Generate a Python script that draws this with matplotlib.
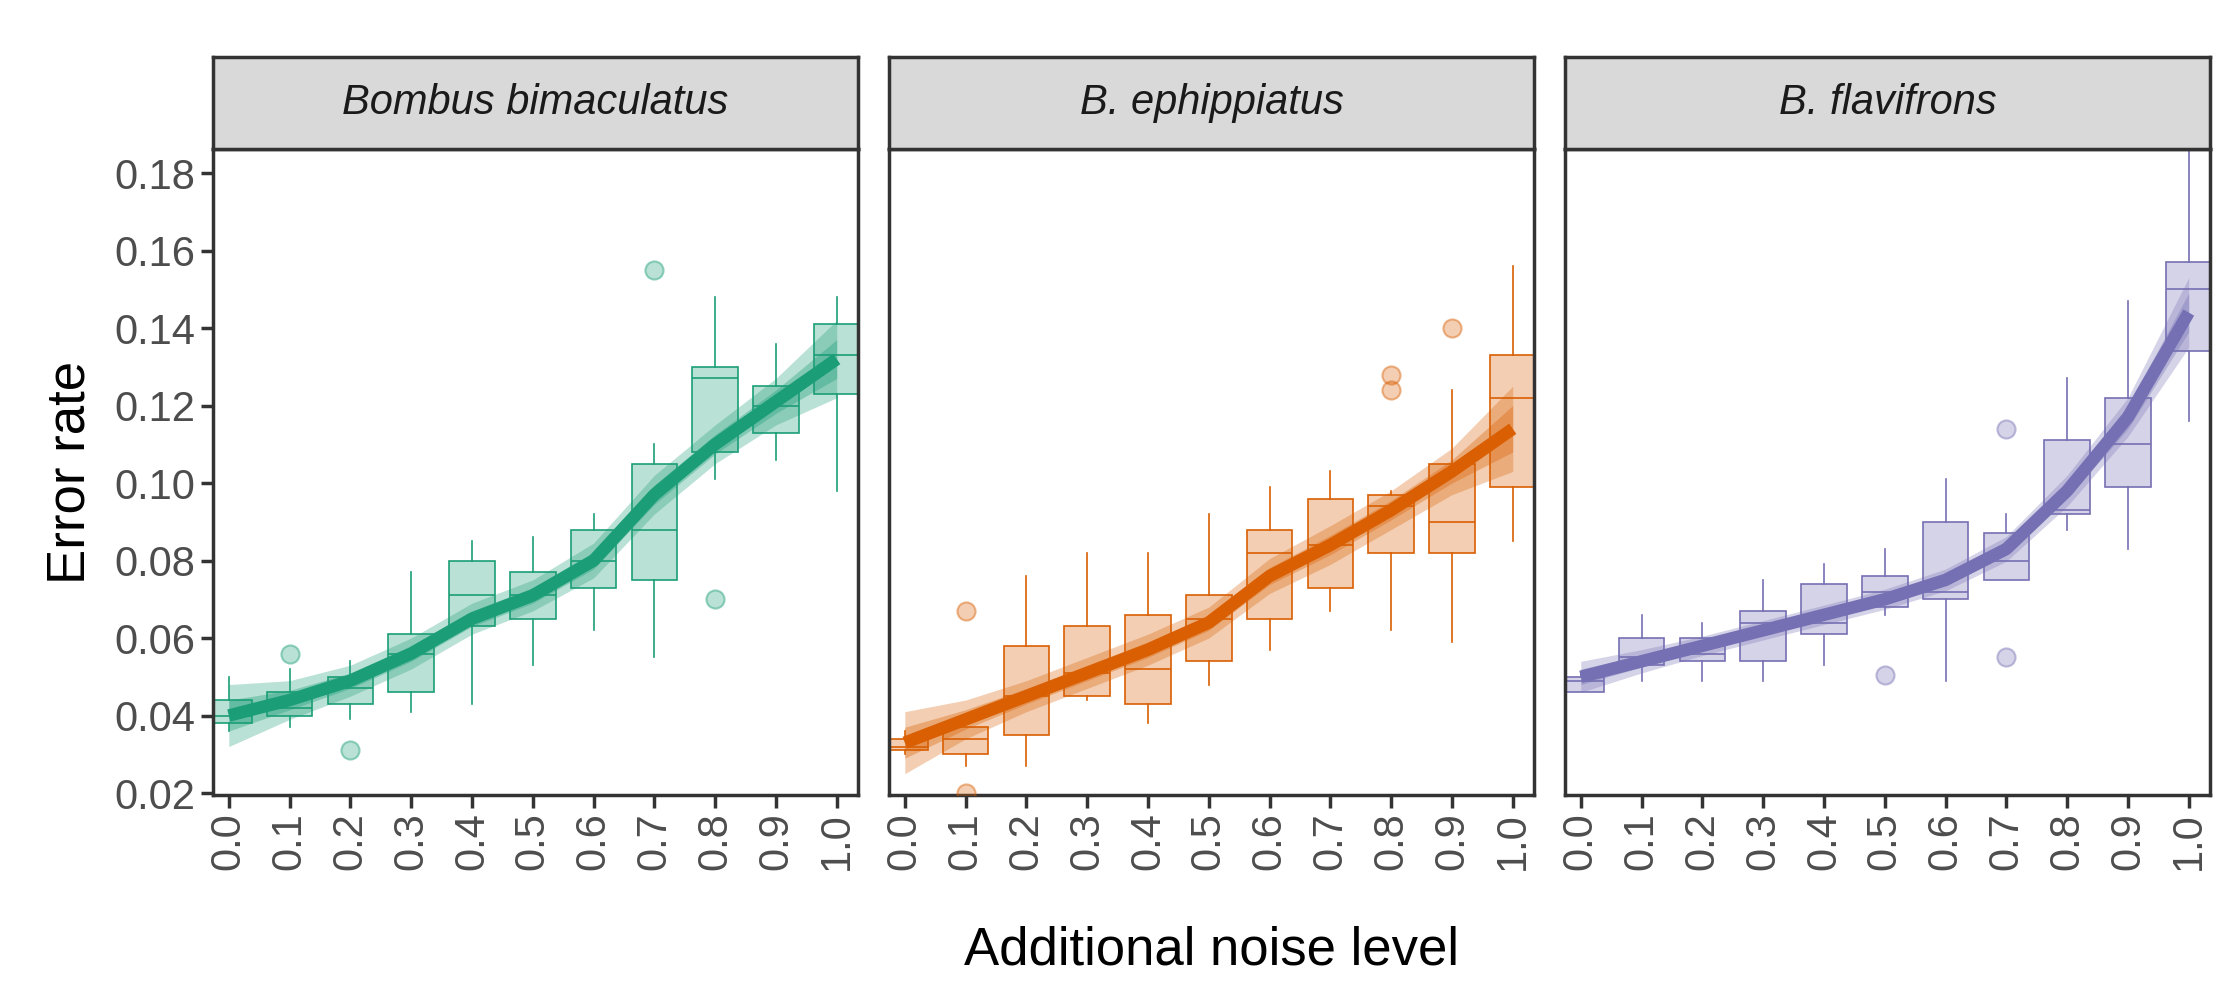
import numpy as np
import matplotlib.pyplot as plt
from matplotlib.colors import to_rgba

noise = [0.0, 0.1, 0.2, 0.3, 0.4, 0.5, 0.6, 0.7, 0.8, 0.9, 1.0]
species = ["Bombus bimaculatus", "B. ephippiatus", "B. flavifrons"]
colors = ["#1B9E77", "#D95F02", "#7570B3"]

# box stats per noise level: whisker low, q1, median, q3, whisker high
bim_stats = [
    (0.036, 0.038, 0.040, 0.044, 0.050),
    (0.037, 0.040, 0.042, 0.046, 0.052),
    (0.039, 0.043, 0.047, 0.050, 0.054),
    (0.041, 0.046, 0.056, 0.061, 0.077),
    (0.043, 0.063, 0.071, 0.080, 0.085),
    (0.053, 0.065, 0.071, 0.077, 0.086),
    (0.062, 0.073, 0.080, 0.088, 0.092),
    (0.055, 0.075, 0.088, 0.105, 0.110),
    (0.101, 0.108, 0.127, 0.130, 0.148),
    (0.106, 0.113, 0.120, 0.125, 0.136),
    (0.098, 0.123, 0.133, 0.141, 0.148),
]
eph_stats = [
    (0.030, 0.031, 0.032, 0.034, 0.036),
    (0.027, 0.030, 0.034, 0.037, 0.037),
    (0.027, 0.035, 0.045, 0.058, 0.076),
    (0.044, 0.045, 0.051, 0.063, 0.082),
    (0.038, 0.043, 0.052, 0.066, 0.082),
    (0.048, 0.054, 0.065, 0.071, 0.092),
    (0.057, 0.065, 0.082, 0.088, 0.099),
    (0.067, 0.073, 0.084, 0.096, 0.103),
    (0.062, 0.082, 0.094, 0.097, 0.098),
    (0.059, 0.082, 0.090, 0.105, 0.124),
    (0.085, 0.099, 0.122, 0.133, 0.156),
]
fla_stats = [
    (0.046, 0.046, 0.049, 0.050, 0.051),
    (0.049, 0.053, 0.055, 0.060, 0.066),
    (0.049, 0.054, 0.056, 0.060, 0.064),
    (0.049, 0.054, 0.064, 0.067, 0.075),
    (0.053, 0.061, 0.064, 0.074, 0.079),
    (0.066, 0.068, 0.072, 0.076, 0.083),
    (0.049, 0.070, 0.072, 0.090, 0.101),
    (0.075, 0.075, 0.080, 0.087, 0.092),
    (0.088, 0.092, 0.093, 0.111, 0.127),
    (0.083, 0.099, 0.110, 0.122, 0.147),
    (0.116, 0.134, 0.150, 0.157, 0.186),
]
bim_out_x = [0.1, 0.2, 0.7, 0.8]
bim_out_y = [0.056, 0.031, 0.155, 0.070]
eph_out_x = [0.1, 0.1, 0.8, 0.8, 0.9]
eph_out_y = [0.067, 0.020, 0.124, 0.128, 0.140]
fla_out_x = [0.5, 0.7, 0.7]
fla_out_y = [0.0505, 0.114, 0.055]

# smoothed fit and ribbon half-widths (inner, outer)
bim_fit = [0.040, 0.044, 0.049, 0.056, 0.065, 0.071, 0.080, 0.097, 0.110, 0.121, 0.132]
eph_fit = [0.033, 0.039, 0.045, 0.051, 0.057, 0.064, 0.076, 0.084, 0.093, 0.103, 0.114]
fla_fit = [0.050, 0.054, 0.058, 0.062, 0.066, 0.070, 0.075, 0.083, 0.098, 0.117, 0.144]
bim_in = [0.004, 0.0025, 0.002, 0.002, 0.002, 0.002, 0.0022, 0.0025, 0.0025, 0.003, 0.005]
bim_outw = [0.008, 0.005, 0.004, 0.004, 0.004, 0.004, 0.0045, 0.005, 0.005, 0.006, 0.010]
eph_in = [0.004, 0.0025, 0.002, 0.002, 0.002, 0.002, 0.0022, 0.0025, 0.0025, 0.003, 0.006]
eph_outw = [0.008, 0.005, 0.004, 0.004, 0.004, 0.004, 0.0045, 0.005, 0.005, 0.006, 0.011]
fla_in = [0.002, 0.0015, 0.0012, 0.0012, 0.0012, 0.0013, 0.0014, 0.0016, 0.002, 0.003, 0.005]
fla_outw = [0.004, 0.003, 0.0025, 0.0025, 0.0025, 0.0026, 0.0028, 0.0032, 0.004, 0.005, 0.009]

all_stats = [bim_stats, eph_stats, fla_stats]
all_outx = [bim_out_x, eph_out_x, fla_out_x]
all_outy = [bim_out_y, eph_out_y, fla_out_y]
all_fit = [bim_fit, eph_fit, fla_fit]
all_in = [bim_in, eph_in, fla_in]
all_outw = [bim_outw, eph_outw, fla_outw]

plt.rcParams['font.family'] = ['Liberation Sans', 'DejaVu Sans']
fig = plt.figure(figsize=(22.29, 9.99), dpi=100)
lefts = [213, 889, 1565]
W, H = 2229, 999
axw = 645
ax_bottom, ax_top = 795, 149
strip_top = 57
dark = "#333333"

for i in range(3):
    ax = fig.add_axes([lefts[i] / W, 1 - ax_bottom / H, axw / W, (ax_bottom - ax_top) / H])
    c = colors[i]
    bxp = []
    for x, s in zip(noise, all_stats[i]):
        bxp.append(dict(whislo=s[0], q1=s[1], med=s[2], q3=s[3], whishi=s[4], fliers=[]))
    ax.bxp(bxp, positions=noise, widths=0.075, patch_artist=True, showcaps=False,
           boxprops=dict(facecolor=to_rgba(c, 0.3), edgecolor=c, linewidth=1.2),
           medianprops=dict(color=c, linewidth=1.2),
           whiskerprops=dict(color=c, linewidth=1.2), manage_ticks=False)
    ax.scatter(all_outx[i], all_outy[i], s=170, color=to_rgba(c, 0.3),
               edgecolor=to_rgba(c, 0.45), linewidth=1.5, zorder=3)
    fit = np.array(all_fit[i])
    ax.fill_between(noise, fit - np.array(all_outw[i]), fit + np.array(all_outw[i]),
                    color=c, alpha=0.3, linewidth=0, zorder=4)
    ax.fill_between(noise, fit - np.array(all_in[i]), fit + np.array(all_in[i]),
                    color=c, alpha=0.35, linewidth=0, zorder=4)
    ax.plot(noise, fit, color=c, linewidth=9, zorder=5, solid_capstyle='butt')
    ax.set_xlim(-0.026, 1.035)
    ax.set_ylim(0.0195, 0.1862)
    ax.set_xticks(noise)
    ax.set_xticklabels([f"{v:.1f}" for v in noise], rotation=90)
    ax.set_yticks([0.02, 0.04, 0.06, 0.08, 0.10, 0.12, 0.14, 0.16, 0.18])
    if i == 0:
        ax.set_yticklabels([f"{v:.2f}" for v in ax.get_yticks()])
        ax.set_ylabel("Error rate", fontsize=38, labelpad=14)
    else:
        ax.tick_params(axis='y', left=False, labelleft=False)
    ax.tick_params(labelsize=30, labelcolor="#4D4D4D", color=dark, width=2.5, length=9)
    for sp in ax.spines.values():
        sp.set_color(dark)
        sp.set_linewidth(2.5)
    # facet strip
    sax = fig.add_axes([lefts[i] / W, 1 - ax_top / H, axw / W, (ax_top - strip_top) / H])
    sax.set_facecolor("#D9D9D9")
    sax.set_xticks([])
    sax.set_yticks([])
    for sp in sax.spines.values():
        sp.set_color(dark)
        sp.set_linewidth(2.5)
    sax.text(0.5, 0.5, species[i], ha='center', va='center', fontsize=30,
             style='italic', color="#1A1A1A", transform=sax.transAxes)

fig.text((213 + 2210) / 2 / W, 0.035, "Additional noise level", ha='center', fontsize=38)
fig.savefig("out.png", dpi=100)
